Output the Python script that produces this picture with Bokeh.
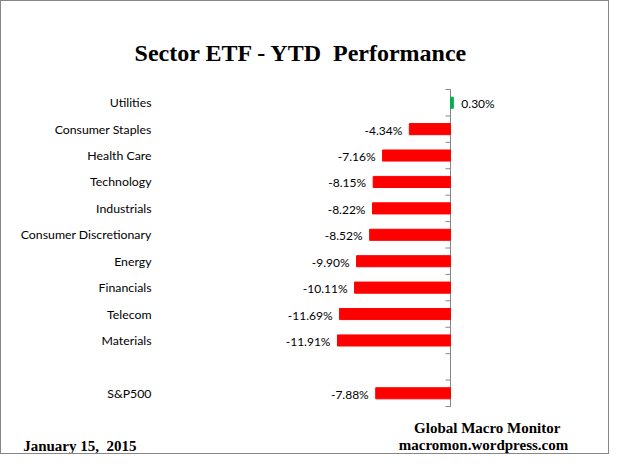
from bokeh.plotting import figure
from bokeh.models import ColumnDataSource, Range1d
from bokeh.core.properties import value
from bokeh.embed import file_html
from bokeh.resources import INLINE

categories = ["Utilities", "Consumer Staples", "Health Care", "Technology",
              "Industrials", "Consumer Discretionary", "Energy", "Financials",
              "Telecom", "Materials", "", "S&P500"]
values = [0.30, -4.34, -7.16, -8.15, -8.22, -8.52, -9.90, -10.11, -11.69,
          -11.91, None, -7.88]

title_text = "Sector ETF - YTD \u00a0Performance"
source_line1 = "Global Macro Monitor"
source_line2 = "macromon.wordpress.com"
date_text = "January 15, \u00a02015"

n = len(categories)
idx = [i for i, v in enumerate(values) if v is not None]
vals = [values[i] for i in idx]
colors = ["#00B050" if v >= 0 else "#FF0000" for v in vals]
labels = [f"{v:.2f}%" for v in vals]
aligns = ["left" if v >= 0 else "right" for v in vals]
offs = [8 if v >= 0 else -7 for v in vals]

src = ColumnDataSource(dict(y=idx, v=vals, c=colors, t=labels, a=aligns, o=offs))
cat_idx = [i for i, c in enumerate(categories) if c]
cat_src = ColumnDataSource(dict(y=cat_idx, t=[categories[i] for i in cat_idx]))

W, H = 609, 454
px_x = 9.49          # pixels per percentage point
px_y = 317 / n       # pixels per category slot
zero_px, top_px = 449, 88

p = figure(width=W, height=H, output_backend="svg", toolbar_location=None,
           x_range=Range1d(-zero_px / px_x, (W - zero_px) / px_x),
           y_range=Range1d(-0.5 + (H - top_px) / px_y, -0.5 - top_px / px_y),
           x_axis_location=None, y_axis_location=None,
           min_border=0, min_border_left=0, min_border_right=0,
           min_border_top=0, min_border_bottom=0)
p.outline_line_color = None
p.grid.visible = False
p.styles = {"border": "1px solid #868686", "box-sizing": "border-box"}

# category labels (left axis labels)
p.text(x=-(zero_px - 150) / px_x, y="y", text="t", source=cat_src,
       text_align="right", text_baseline="middle", text_font=value("Lato"),
       text_font_size="12.3px", text_color="#000000")

# value axis line at zero with tick marks between categories
bounds = [i - 0.5 for i in range(n + 1)]
axis_color = "#868686"
p.segment(x0=[0], y0=[bounds[0]], x1=[0], y1=[bounds[-1]],
          line_color=axis_color, line_width=1)
p.segment(x0=[-5 / px_x] * len(bounds), y0=bounds, x1=[0] * len(bounds),
          y1=bounds, line_color=axis_color, line_width=1)

p.hbar(y="y", left=0, right="v", height=0.42, color="c", source=src)
p.text(x="v", y="y", text="t", x_offset="o", y_offset=1, text_align="a",
       text_baseline="middle", text_font=value("Lato"), text_font_size="12px",
       text_color="#000000", source=src)

serif = value("Liberation Serif")
p.text(x=[-15.70], y=[-1.863], text=[title_text], text_align="center",
       text_baseline="alphabetic", text_font=serif, text_font_style="bold",
       text_font_size="24px", text_color="#000000")
p.text(x=[3.87, 3.48], y=[12.32, 12.95], text=[source_line1, source_line2],
       text_align="center", text_baseline="alphabetic", text_font=serif,
       text_font_style="bold", text_font_size="15px", text_color="#000000")
p.text(x=[-45.03], y=[12.98], text=[date_text], text_align="left",
       text_baseline="alphabetic", text_font=serif, text_font_style="bold",
       text_font_size="15px", text_color="#000000")

open("out.html", "w").write(file_html(p, INLINE))
